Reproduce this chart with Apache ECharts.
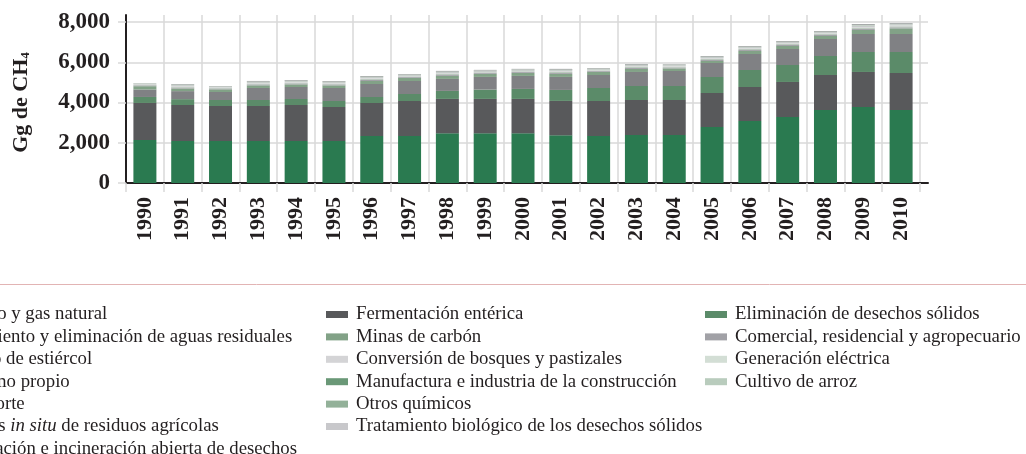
<!DOCTYPE html>
<html>
<head>
<meta charset="utf-8">
<script src="https://cdn.jsdelivr.net/npm/echarts@6/dist/echarts.min.js"></script>
<style>
html,body{margin:0;padding:0;background:#fff;}
#chart{width:1026px;height:454px;}
</style>
</head>
<body>
<div id="chart"></div>
<script>
// ---- DATA ----
const years = ['1990','1991','1992','1993','1994','1995','1996','1997','1998','1999','2000','2001','2002','2003','2004','2005','2006','2007','2008','2009','2010'];
const yTicks = [0, 2000, 4000, 6000, 8000];

const petroleo     = [2137,2087,2087,2087,2087,2087,2335,2335,2468,2468,2468,2369,2335,2385,2385,2783,3081,3280,3627,3777,3627];
const fermentacion = [1840,1790,1740,1740,1790,1690,1640,1740,1710,1710,1710,1710,1740,1740,1740,1690,1690,1740,1740,1740,1840];
const elimSolidos  = [ 298, 290, 298, 298, 298, 298, 298, 347, 398, 464, 497, 546, 646, 696, 696, 795, 845, 844, 944, 993,1043];
const aguasResid   = [ 370, 398, 398, 597, 596, 646, 646, 647, 596, 629, 646, 646, 646, 696, 745, 696, 795, 795, 844, 895, 895];
const minasCarbon  = [ 165, 130, 130, 130, 130, 130, 150, 150, 150, 150, 150, 150, 150, 150, 130, 100, 150, 150, 150, 200, 280];
const comercial    = [  40,  45,  40,  45,  45,  45,  50,  42,  50,  42,  42,  50,  42,  50,  42,  50,  50,  50,  50,  55,  50];
const estiercol    = [  30,  40,  32,  40,  40,  40,  45,  36,  45,  36,  36,  45,  36,  45,  38,  45,  45,  45,  45,  55,  50];
const bosques      = [  25,  40,  30,  40,  40,  40,  45,  35,  45,  35,  35,  45,  35,  45,  36,  45,  45,  45,  45,  50,  45];
const generacion   = [   8,  12,  10,  12,  12,  12,  14,  11,  14,  11,  11,  14,  11,  14,  12,  14,  14,  14,  14,  18,  16];
const consumo      = [  10,  15,  11,  15,  15,  15,  17,  14,  17,  14,  14,  17,  14,  17,  14,  17,  17,  17,  17,  22,  20];
const manufactura  = [   3,   4,   3,   4,   4,   4,   5,   4,   5,   4,   4,   5,   4,   5,   4,   5,   5,   5,   5,   6,   5];
const arroz        = [   8,  12,   9,  12,  12,  12,  13,  10,  13,  10,  10,  13,  10,  13,  11,  13,  13,  13,  13,  15,  14];
const transporte   = [   6,  10,   8,  10,  10,  10,  12,  10,  12,  10,  10,  12,  10,  12,  10,  12,  12,  12,  12,  15,  14];
const quimicos     = [   3,   5,   4,   5,   5,   5,   6,   5,   6,   5,   5,   6,   5,   6,   5,   6,   6,   6,   6,   8,   7];
const quemas       = [   7,  13,   8,  13,  13,  13,  15,  12,  15,  12,  12,  15,  12,  15,  12,  15,  15,  15,  15,  18,  15];
const biologico    = [   3,   5,   4,   5,   5,   5,   6,   5,   6,   5,   5,   6,   5,   6,   5,   6,   6,   6,   6,  10,  10];
const incineracion = [   5,  16,   9,  17,  17,  17,  20,  13,  19,  14,  14,  20,  13,  19,  13,  20,  20,  20,  20,  25,  20];

const N = {
  petroleo: 'Petróleo y gas natural',
  aguas: 'Tratamiento y eliminación de aguas residuales',
  estiercol: 'Manejo de estiércol',
  consumo: 'Consumo propio',
  transporte: 'Transporte',
  quemas: 'Quemas in situ de residuos agrícolas',
  incineracion: 'Eliminación e incineración abierta de desechos',
  fermentacion: 'Fermentación entérica',
  minas: 'Minas de carbón',
  bosques: 'Conversión de bosques y pastizales',
  manufactura: 'Manufactura e industria de la construcción',
  quimicos: 'Otros químicos',
  biologico: 'Tratamiento biológico de los desechos sólidos',
  elimSolidos: 'Eliminación de desechos sólidos',
  comercial: 'Comercial, residencial y agropecuario',
  generacion: 'Generación eléctrica',
  arroz: 'Cultivo de arroz'
};

// stacking order, bottom to top
const stackOrder = [
  [N.petroleo, petroleo, '#2a7a50'],
  [N.fermentacion, fermentacion, '#58595b'],
  [N.elimSolidos, elimSolidos, '#5b8b69'],
  [N.aguas, aguasResid, '#808184'],
  [N.minas, minasCarbon, '#82a287'],
  [N.comercial, comercial, '#a1a1a6'],
  [N.estiercol, estiercol, '#b4c4b7'],
  [N.bosques, bosques, '#d4d4d6'],
  [N.generacion, generacion, '#d3ded5'],
  [N.consumo, consumo, '#939598'],
  [N.manufactura, manufactura, '#6a9877'],
  [N.arroz, arroz, '#b9ccbd'],
  [N.transporte, transporte, '#c0c0c2'],
  [N.quimicos, quimicos, '#93b199'],
  [N.quemas, quemas, '#a9b9ac'],
  [N.biologico, biologico, '#c8c8cb'],
  [N.incineracion, incineracion, '#6d6e71']
];

const legendCol1 = [N.petroleo, N.aguas, N.estiercol, N.consumo, N.transporte, N.quemas, N.incineracion];
const legendCol2 = [N.fermentacion, N.minas, N.bosques, N.manufactura, N.quimicos, N.biologico];
const legendCol3 = [N.elimSolidos, N.comercial, N.generacion, N.arroz];

// ---- CHART ----
const FONT = "'Liberation Serif', 'Times New Roman', serif";
const TXT = '#231f20';
const GRID = '#d9d9d9';
const fmt = v => v.toLocaleString('en-US');

const chart = echarts.init(document.getElementById('chart'), null, {renderer: 'canvas'});

const legendCommon = {
  orient: 'vertical',
  top: 304.5,
  height: 220,
  padding: 0,
  itemWidth: 22,
  itemHeight: 7,
  itemGap: 2.4,
  icon: 'rect',
  selectedMode: false,
  formatter: n => n.replace('in situ', '{it|in situ}'),
  textStyle: {
    fontFamily: FONT, fontSize: 18.8, lineHeight: 20, color: TXT,
    padding: [0, 0, 0, 3],
    rich: { it: { fontFamily: FONT, fontSize: 18.8, fontStyle: 'italic', color: TXT } }
  }
};

const yTop = yTicks[yTicks.length - 1];

chart.setOption({
  animation: false,
  textStyle: { fontFamily: FONT },
  graphic: [{
    type: 'line',
    shape: { x1: 0, y1: 284.5, x2: 1026, y2: 284.5 },
    style: { stroke: '#e2b4b4', lineWidth: 1 }
  }],
  grid: [
    { left: 126, right: 106, top: 15, bottom: 271 },
    { left: 126, right: 98, top: 22, bottom: 271 }
  ],
  legend: [
    Object.assign({ left: -86, data: legendCol1 }, legendCommon),
    Object.assign({ left: 326, data: legendCol2 }, legendCommon),
    Object.assign({ left: 705, data: legendCol3 }, legendCommon)
  ],
  xAxis: [
    {
      type: 'category', gridIndex: 0, data: years,
      axisLine: { show: false },
      axisTick: { show: true, length: 9, lineStyle: { color: GRID, width: 1.5 } },
      splitLine: { show: true, lineStyle: { color: GRID, width: 1.5 } },
      axisLabel: { interval: 0, rotate: 90, fontFamily: FONT, fontSize: 22, fontWeight: 'bold', color: TXT, margin: 14 }
    },
    {
      type: 'value', gridIndex: 1, min: 0, max: 1,
      axisLine: { show: true, lineStyle: { color: TXT, width: 2 } },
      axisTick: { show: false }, axisLabel: { show: false }, splitLine: { show: false }
    }
  ],
  yAxis: [
    {
      type: 'value', gridIndex: 0, min: 0, max: yTop * 168 / 161, interval: 2000,
      axisLine: { show: true, lineStyle: { color: TXT, width: 2 } },
      axisTick: { show: false }, splitLine: { show: false },
      axisLabel: {
        fontFamily: FONT, fontSize: 23, fontWeight: 'bold', color: TXT, margin: 16,
        formatter: v => (yTicks.indexOf(v) >= 0 ? fmt(v) : '')
      }
    },
    {
      type: 'value', gridIndex: 1, min: 0, max: yTop, interval: 2000,
      axisLine: { show: false },
      axisTick: { show: true, length: 8, lineStyle: { color: GRID, width: 1.5 } },
      axisLabel: { show: false },
      splitLine: { show: true, lineStyle: { color: GRID, width: 1.5 } },
      name: 'Gg de CH{s|4}',
      nameLocation: 'middle', nameGap: 94, nameRotate: 90,
      nameTextStyle: {
        fontFamily: FONT, fontSize: 22, fontWeight: 'bold', color: TXT,
        rich: { s: { fontFamily: FONT, fontSize: 13, fontWeight: 'bold', color: TXT, verticalAlign: 'bottom', lineHeight: 12 } }
      }
    }
  ],
  series: stackOrder.map(([name, data, color]) => ({
    name, type: 'bar', stack: 'total', data,
    xAxisIndex: 0, yAxisIndex: 0,
    barWidth: 23,
    itemStyle: { color },
    emphasis: { disabled: true }
  }))
});
</script>
</body>
</html>
